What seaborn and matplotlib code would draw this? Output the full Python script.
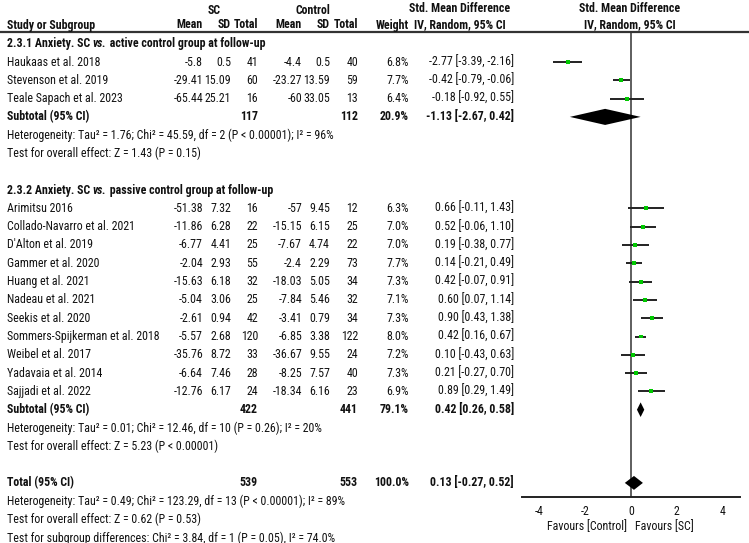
import os
import pandas as pd
import numpy as np
import matplotlib.pyplot as plt
import matplotlib.font_manager as fm
import seaborn as sns

#---------------------------------------------------------------------------------------
# Data
studies_1 = ['Haukaas et al. 2018', 'Stevenson et al. 2019', 'Teale Sapach et al. 2023']
sc_mean_1 = [-5.8, -29.41, -65.44]
sc_sd_1 = [0.5, 15.09, 25.21]
sc_n_1 = [41, 60, 16]
ct_mean_1 = [-4.4, -23.27, -60]
ct_sd_1 = [0.5, 13.59, 33.05]
ct_n_1 = [40, 59, 13]
weight_1 = [6.8, 7.7, 6.4]
smd_1 = [-2.77, -0.42, -0.18]
lo_1 = [-3.39, -0.79, -0.92]
hi_1 = [-2.16, -0.06, 0.55]

studies_2 = ['Arimitsu 2016', 'Collado-Navarro et al. 2021', "D'Alton et al. 2019", 'Gammer et al. 2020',
             'Huang et al. 2021', 'Nadeau et al. 2021', 'Seekis et al. 2020', 'Sommers-Spijkerman et al. 2018',
             'Weibel et al. 2017', 'Yadavaia et al. 2014', 'Sajjadi et al. 2022']
sc_mean_2 = [-51.38, -11.86, -6.77, -2.04, -15.63, -5.04, -2.61, -5.57, -35.76, -6.64, -12.76]
sc_sd_2 = [7.32, 6.28, 4.41, 2.93, 6.18, 3.06, 0.94, 2.68, 8.72, 7.46, 6.17]
sc_n_2 = [16, 22, 25, 55, 32, 25, 42, 120, 33, 28, 24]
ct_mean_2 = [-57, -15.15, -7.67, -2.4, -18.03, -7.84, -3.41, -6.85, -36.67, -8.25, -18.34]
ct_sd_2 = [9.45, 6.15, 4.74, 2.29, 5.05, 5.46, 0.79, 3.38, 9.55, 7.57, 6.16]
ct_n_2 = [12, 25, 22, 73, 34, 32, 34, 122, 24, 40, 23]
weight_2 = [6.3, 7.0, 7.0, 7.7, 7.3, 7.1, 7.3, 8.0, 7.2, 7.3, 6.9]
smd_2 = [0.66, 0.52, 0.19, 0.14, 0.42, 0.60, 0.90, 0.42, 0.10, 0.21, 0.89]
lo_2 = [-0.11, -0.06, -0.38, -0.21, -0.07, 0.07, 0.43, 0.16, -0.43, -0.27, 0.29]
hi_2 = [1.43, 1.10, 0.77, 0.49, 0.91, 1.14, 1.38, 0.67, 0.63, 0.70, 1.49]

# pooled results: subgroup 1, subgroup 2, total
pooled_label = ['Subtotal (95% CI)', 'Subtotal (95% CI)', 'Total (95% CI)']
pooled_sc_n = [117, 422, 539]
pooled_ct_n = [112, 441, 553]
pooled_weight = [20.9, 79.1, 100.0]
pooled_smd = [-1.13, 0.42, 0.13]
pooled_lo = [-2.67, 0.26, -0.27]
pooled_hi = [0.42, 0.58, 0.52]

het_text = ['Heterogeneity: Tau² = 1.76; Chi² = 45.59, df = 2 (P < 0.00001); I² = 96%',
            'Heterogeneity: Tau² = 0.01; Chi² = 12.46, df = 10 (P = 0.26); I² = 20%',
            'Heterogeneity: Tau² = 0.49; Chi² = 123.29, df = 13 (P < 0.00001); I² = 89%']
effect_text = ['Test for overall effect: Z = 1.43 (P = 0.15)',
               'Test for overall effect: Z = 5.23 (P < 0.00001)',
               'Test for overall effect: Z = 0.62 (P = 0.53)']
subgroup_text = 'Test for subgroup differences: Chi² = 3.84, df = 1 (P = 0.05), I² = 74.0%'
group_titles = [('2.3.1 Anxiety. SC ', 'vs.', ' active control group at follow-up'),
                ('2.3.2 Anxiety. SC ', 'vs.', ' passive control group at follow-up')]
xticks = [-4, -2, 0, 2, 4]

#---------------------------------------------------------------------------------------
# Row layout
n1, n2 = len(studies_1), len(studies_2)
rows_1 = list(range(0, n1))
sub1_row = n1
grp2_row = n1 + 4
rows_2 = list(range(grp2_row + 1, grp2_row + 1 + n2))
sub2_row = rows_2[-1] + 1
tot_row = sub2_row + 4
pooled_rows = [sub1_row, sub2_row, tot_row]

df = pd.DataFrame({'study': studies_1 + studies_2,
                   'row': rows_1 + rows_2,
                   'sc_mean': sc_mean_1 + sc_mean_2, 'sc_sd': sc_sd_1 + sc_sd_2, 'sc_n': sc_n_1 + sc_n_2,
                   'ct_mean': ct_mean_1 + ct_mean_2, 'ct_sd': ct_sd_1 + ct_sd_2, 'ct_n': ct_n_1 + ct_n_2,
                   'weight': weight_1 + weight_2,
                   'smd': smd_1 + smd_2, 'lo': lo_1 + lo_2, 'hi': hi_1 + hi_2})

#---------------------------------------------------------------------------------------
# Pick a narrow font if one is installed (reference uses Arial Narrow)
sns.set_style('white')

def wnum(w):
    return w if isinstance(w, (int, float)) else fm.weight_dict.get(w, 400)

def find_font(bold, italic):
    for key in ['LiberationSansNarrow', 'ArialNarrow', 'RobotoCondensed', 'DejaVuSansCondensed',
                'OpenSansCondensed', 'NotoSansCondensed']:
        for f in fm.fontManager.ttflist:
            base = os.path.basename(f.fname).replace('-', '').replace('_', '')
            if key.lower() not in base.lower():
                continue
            if (f.style != 'normal') != italic:
                continue
            w = wnum(f.weight)
            if (bold and w == 700) or (not bold and w == 400):
                return f.fname
    return None

def font(bold=False, italic=False, size=10):
    path = find_font(bold, italic)
    if path is None and italic:
        path = find_font(bold, False)
    if path is not None:
        return fm.FontProperties(fname=path, size=size)
    return fm.FontProperties(family='Liberation Sans', weight='bold' if bold else 'normal',
                             style='italic' if italic else 'normal', size=size)

W, H = 749, 543
fig = plt.figure(figsize=(W / 100, H / 100), dpi=100)
renderer = fig.canvas.get_renderer()

# size the font so a reference line is about as wide as in the picture
probe = fig.text(0, 0, effect_text[0], fontproperties=font(size=10))
fs = min(11.5, 10 * 192 / probe.get_window_extent(renderer).width)
probe.remove()

fp_reg = font(size=fs)
fp_bold = font(bold=True, size=fs)
fp_bi = font(bold=True, italic=True, size=fs)

y0, dy = 62, 18.3
def ypx(r):
    return y0 + dy * r

tab = fig.add_axes([0, 0, 1, 1])
tab.set_xlim(0, W)
tab.set_ylim(H, 0)
tab.axis('off')

# column right edges
cx = {'sc_mean': 203, 'sc_sd': 231, 'sc_n': 258, 'ct_mean': 302, 'ct_sd': 330, 'ct_n': 358,
      'weight': 409, 'ci': 514}
col_color = '#111111'

def t(x, y, s, ha='left', bold=False):
    return tab.text(x, y, s, ha=ha, va='center', color=col_color,
                    fontproperties=fp_bold if bold else fp_reg)

# header
t(214, 10, 'SC', ha='center', bold=True)
t(313, 10, 'Control', ha='center', bold=True)
t(460, 8, 'Std. Mean Difference', ha='center', bold=True)
t(630, 8, 'Std. Mean Difference', ha='center', bold=True)
t(7, 25, 'Study or Subgroup', bold=True)
for key, lab in [('sc_mean', 'Mean'), ('sc_sd', 'SD'), ('sc_n', 'Total'),
                 ('ct_mean', 'Mean'), ('ct_sd', 'SD'), ('ct_n', 'Total'), ('weight', 'Weight')]:
    t(cx[key], 25, lab, ha='right', bold=True)
t(460, 25, 'IV, Random, 95% CI', ha='center', bold=True)
t(630, 25, 'IV, Random, 95% CI', ha='center', bold=True)
tab.axhline(32, color='#333333', lw=1.6)

# subgroup titles
for r, parts in zip([-1, grp2_row], group_titles):
    a = t(7, ypx(r), parts[0], bold=True)
    b = tab.annotate(parts[1], xy=(1, 0.5), xycoords=a, va='center', ha='left',
                     color=col_color, fontproperties=fp_bi)
    tab.annotate(parts[2], xy=(1, 0.5), xycoords=b, va='center', ha='left',
                 color=col_color, fontproperties=fp_bold)

# study rows
for _, d in df.iterrows():
    y = ypx(d['row'])
    t(7, y, d['study'])
    for key in ['sc_mean', 'sc_sd', 'ct_mean', 'ct_sd']:
        t(cx[key], y, f"{d[key]:g}", ha='right')
    t(cx['sc_n'], y, f"{int(d['sc_n'])}", ha='right')
    t(cx['ct_n'], y, f"{int(d['ct_n'])}", ha='right')
    t(cx['weight'], y, f"{d['weight']:.1f}%", ha='right')
    t(cx['ci'], y, f"{d['smd']:.2f} [{d['lo']:.2f}, {d['hi']:.2f}]", ha='right')

# pooled rows
for i, r in enumerate(pooled_rows):
    y = ypx(r)
    t(7, y, pooled_label[i], bold=True)
    t(cx['sc_n'], y, f"{pooled_sc_n[i]}", ha='right', bold=True)
    t(cx['ct_n'], y, f"{pooled_ct_n[i]}", ha='right', bold=True)
    t(cx['weight'], y, f"{pooled_weight[i]:.1f}%", ha='right', bold=True)
    t(cx['ci'], y, f"{pooled_smd[i]:.2f} [{pooled_lo[i]:.2f}, {pooled_hi[i]:.2f}]", ha='right', bold=True)
    t(7, ypx(r + 1), het_text[i])
    t(7, ypx(r + 2), effect_text[i])
t(7, ypx(tot_row + 3), subgroup_text)

#---------------------------------------------------------------------------------------
# Forest plot axes
x_zero, px_unit = 631, 22.9
xmax = 4.75
ax_top, ax_bot = 32, 497
ax = fig.add_axes([(x_zero - xmax * px_unit) / W, (H - ax_bot) / H,
                   2 * xmax * px_unit / W, (ax_bot - ax_top) / H])
ax.set_facecolor('none')
ax.set_xlim(-xmax, xmax)
ax.set_ylim((ax_bot - y0) / dy, (ax_top - y0) / dy)

ax.axvline(0, color='#333333', lw=1.1, zorder=1)
ax.hlines(df['row'], df['lo'], df['hi'], color='#222222', lw=1.4, zorder=2)
sns.scatterplot(data=df, x='smd', y='row', marker='s', color='#00c800', s=8,
                edgecolor='none', ax=ax, zorder=3, legend=False)

half_h = [0.44, 0.40, 0.38]
for i, r in enumerate(pooled_rows):
    ax.fill([pooled_lo[i], pooled_smd[i], pooled_hi[i], pooled_smd[i]],
            [r, r - half_h[i], r, r + half_h[i]], color='black', lw=0, zorder=4)

for s in ['top', 'left', 'right']:
    ax.spines[s].set_visible(False)
ax.spines['bottom'].set_color('#222222')
ax.spines['bottom'].set_linewidth(1.4)
ax.set_xticks(xticks)
ax.set_xticklabels([str(v) for v in xticks])
for lab in ax.get_xticklabels():
    lab.set_fontproperties(fp_reg)
ax.set_yticks([])
ax.tick_params(axis='x', direction='inout', length=7, width=1.2, color='#222222',
               labelcolor=col_color, pad=2)
ax.set_xlabel('')
ax.set_ylabel('')

t(627, 527, 'Favours [Control]', ha='right')
t(635, 527, 'Favours [SC]', ha='left')

fig.savefig('out.png', dpi=100, facecolor='white')
